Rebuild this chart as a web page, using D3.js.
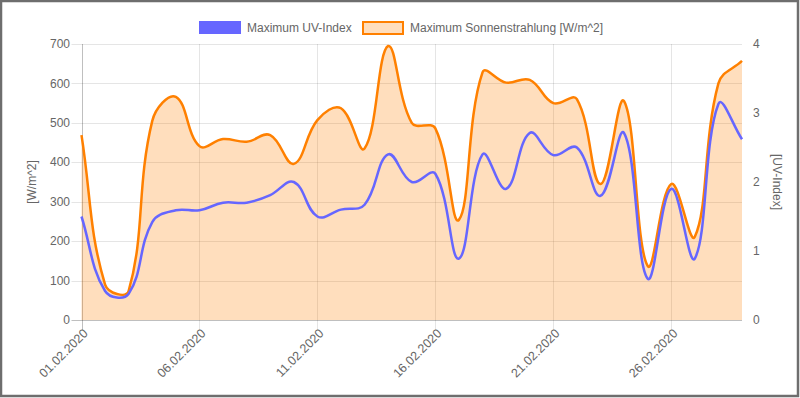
<!DOCTYPE html>
<html>
<head>
<meta charset="utf-8">
<script src="https://cdn.jsdelivr.net/npm/d3@7"></script>
<style>
  html, body { margin: 0; padding: 0; background: #fff; }
  svg { display: block; font-family: Arial, "Liberation Sans", sans-serif; }
</style>
</head>
<body>
<svg id="chart" width="800" height="398"></svg>
<script>
// Tage im Februar 2020
var dates = d3.range(1, 30).map(function (d) {
  return (d < 10 ? '0' + d : '' + d) + '.02.2020';
});

// Maximum UV-Index (rechte Achse)
var uvIndex = [1.50, 0.42, 0.38, 1.42, 1.59, 1.59, 1.70, 1.70, 1.81, 2.00,
  1.50, 1.60, 1.67, 2.40, 2.00, 2.12, 0.89, 2.40, 1.90, 2.71,
  2.39, 2.50, 1.80, 2.71, 0.60, 1.90, 0.89, 3.13, 2.62];

// Maximum Sonnenstrahlung in W/m^2 (linke Achse)
var radiation = [469, 90, 74, 505, 566, 441, 459, 452, 469, 396,
  507, 537, 435, 695, 500, 486, 254, 628, 602, 609,
  550, 560, 345, 555, 137, 345, 211, 600, 657];

var leftTicks = [0, 100, 200, 300, 400, 500, 600, 700];
var rightTicks = [0, 1, 2, 3, 4];
var legendLabels = ['Maximum UV-Index', 'Maximum Sonnenstrahlung [W/m^2]'];

var blue = 'rgb(102,102,255)';
var orange = 'rgb(255,128,0)';
var orangeFill = 'rgba(255,128,0,0.26)';
var textColor = '#666';

var svg = d3.select('#chart');
var area = { left: 81.5, right: 742, top: 44, bottom: 320 };

var x = d3.scalePoint().domain(dates).range([area.left, area.right]);
var yLeft = d3.scaleLinear().domain([0, 700]).range([area.bottom, area.top]);
var yRight = d3.scaleLinear().domain([0, 4]).range([area.bottom, area.top]);

// Spline wie bei Chart.js (tension 0.4), als eigene d3-Kurve
function ChartJsCurve(context) { this._context = context; }
ChartJsCurve.prototype = {
  areaStart: function () { this._line = 0; },
  areaEnd: function () { this._line = NaN; },
  lineStart: function () { this._pts = []; },
  point: function (px, py) { this._pts.push([+px, +py]); },
  lineEnd: function () {
    var p = this._pts, c = this._context, n = p.length, t = 0.4;
    if (n) {
      if (this._line) c.lineTo(p[0][0], p[0][1]); else c.moveTo(p[0][0], p[0][1]);
      var ctrl = p.map(function (cur, i) {
        var prev = p[i - 1] || cur, next = p[i + 1] || cur;
        var d01 = Math.hypot(cur[0] - prev[0], cur[1] - prev[1]);
        var d12 = Math.hypot(next[0] - cur[0], next[1] - cur[1]);
        var s01 = d01 / (d01 + d12), s12 = d12 / (d01 + d12);
        if (isNaN(s01)) s01 = 0;
        if (isNaN(s12)) s12 = 0;
        var fa = t * s01, fb = t * s12;
        var clampX = function (v) { return Math.max(area.left, Math.min(area.right, v)); };
        var clampY = function (v) { return Math.max(area.top, Math.min(area.bottom, v)); };
        return {
          prev: [clampX(cur[0] - fa * (next[0] - prev[0])), clampY(cur[1] - fa * (next[1] - prev[1]))],
          next: [clampX(cur[0] + fb * (next[0] - prev[0])), clampY(cur[1] + fb * (next[1] - prev[1]))]
        };
      });
      for (var i = 0; i < n - 1; i++) {
        c.bezierCurveTo(ctrl[i].next[0], ctrl[i].next[1], ctrl[i + 1].prev[0], ctrl[i + 1].prev[1], p[i + 1][0], p[i + 1][1]);
      }
    }
    if (this._line || (this._line !== 0 && n === 1)) c.closePath();
    this._line = 1 - this._line;
  }
};
function chartJsCurve(context) { return new ChartJsCurve(context); }

// Rahmen
svg.append('rect')
  .attr('x', 1).attr('y', 1).attr('width', 797).attr('height', 395)
  .attr('fill', 'none').attr('stroke', '#6e6e6e').attr('stroke-width', 2.5);

// horizontale Gitterlinien (linke Achse)
svg.append('g').selectAll('line').data(leftTicks).enter().append('line')
  .attr('x1', area.left - 10).attr('x2', area.right)
  .attr('y1', function (d) { return Math.round(yLeft(d)) + 0.5; })
  .attr('y2', function (d) { return Math.round(yLeft(d)) + 0.5; })
  .attr('stroke', function (d) { return d === 0 ? 'rgba(0,0,0,0.25)' : 'rgba(0,0,0,0.1)'; })
  .attr('stroke-width', 1);

// vertikale Gitterlinien, nur jeder 5. Tag
var shownDates = dates.filter(function (d, i) { return i % 5 === 0; });
svg.append('g').selectAll('line').data(shownDates).enter().append('line')
  .attr('x1', function (d) { return Math.round(x(d)) + 0.5; })
  .attr('x2', function (d) { return Math.round(x(d)) + 0.5; })
  .attr('y1', area.top).attr('y2', area.bottom + 10)
  .attr('stroke', function (d, i) { return i === 0 ? 'rgba(0,0,0,0.25)' : 'rgba(0,0,0,0.1)'; })
  .attr('stroke-width', 1);

// Fläche + Linie Sonnenstrahlung
var radArea = d3.area()
  .x(function (d, i) { return x(dates[i]); })
  .y0(yLeft(0))
  .y1(function (d) { return yLeft(d); })
  .curve(chartJsCurve);
var radLine = d3.line()
  .x(function (d, i) { return x(dates[i]); })
  .y(function (d) { return yLeft(d); })
  .curve(chartJsCurve);
var uvLine = d3.line()
  .x(function (d, i) { return x(dates[i]); })
  .y(function (d) { return yRight(d); })
  .curve(chartJsCurve);

svg.append('path').datum(radiation).attr('d', radArea).attr('fill', orangeFill);
svg.append('path').datum(radiation).attr('d', radLine)
  .attr('fill', 'none').attr('stroke', orange).attr('stroke-width', 2.5);
svg.append('path').datum(uvIndex).attr('d', uvLine)
  .attr('fill', 'none').attr('stroke', blue).attr('stroke-width', 2.5);

// Achsenbeschriftung links
svg.append('g').selectAll('text').data(leftTicks).enter().append('text')
  .attr('x', 70).attr('y', function (d) { return yLeft(d); })
  .attr('dy', '0.35em').attr('text-anchor', 'end')
  .attr('font-size', 12).attr('fill', textColor)
  .text(function (d) { return d; });

// Achsenbeschriftung rechts
svg.append('g').selectAll('text').data(rightTicks).enter().append('text')
  .attr('x', 753).attr('y', function (d) { return yRight(d); })
  .attr('dy', '0.35em').attr('text-anchor', 'start')
  .attr('font-size', 12).attr('fill', textColor)
  .text(function (d) { return d; });

// Datumsbeschriftung, gedreht
svg.append('g').selectAll('text').data(shownDates).enter().append('text')
  .attr('transform', function (d) { return 'translate(' + (x(d) + 4) + ',' + (area.bottom + 11) + ') rotate(-45)'; })
  .attr('dy', '0.35em').attr('text-anchor', 'end')
  .attr('font-size', 12.5).attr('fill', textColor)
  .text(function (d) { return d; });

// Achsentitel
svg.append('text')
  .attr('transform', 'translate(32,' + ((area.top + area.bottom) / 2) + ') rotate(-90)')
  .attr('dy', '0.35em').attr('text-anchor', 'middle')
  .attr('font-size', 12).attr('fill', textColor)
  .text('[W/m^2]');
svg.append('text')
  .attr('transform', 'translate(777,' + ((area.top + area.bottom) / 2) + ') rotate(90)')
  .attr('dy', '0.35em').attr('text-anchor', 'middle')
  .attr('font-size', 12).attr('fill', textColor)
  .text('[UV-Index]');

// Legende
var legend = svg.append('g');
legend.append('rect')
  .attr('x', 199).attr('y', 21).attr('width', 42).attr('height', 13)
  .attr('fill', blue);
legend.append('text')
  .attr('x', 247).attr('y', 28).attr('dy', '0.35em')
  .attr('font-size', 12).attr('fill', textColor)
  .text(legendLabels[0]);
legend.append('rect')
  .attr('x', 363).attr('y', 22).attr('width', 40).attr('height', 12)
  .attr('fill', orangeFill).attr('stroke', orange).attr('stroke-width', 2);
legend.append('text')
  .attr('x', 410).attr('y', 28).attr('dy', '0.35em')
  .attr('font-size', 12).attr('fill', textColor)
  .text(legendLabels[1]);
</script>
</body>
</html>
